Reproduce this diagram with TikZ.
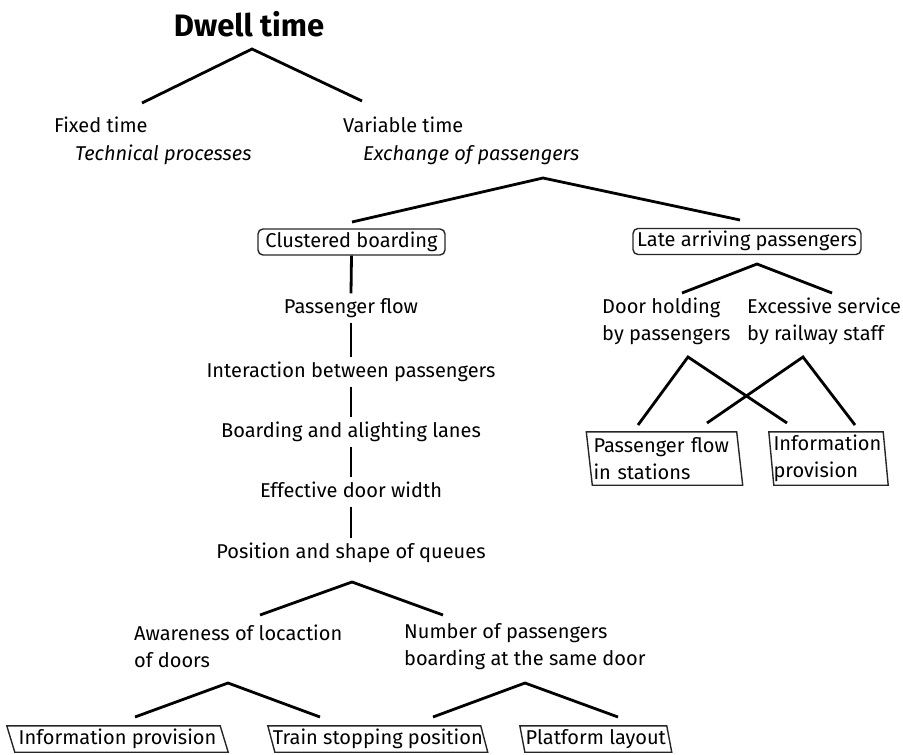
\documentclass[tikz,border=0pt]{standalone}
\usepackage{fontspec}
\setmainfont{Fira Sans}
\begin{document}
\begin{tikzpicture}[x=1pt,y=-1pt,
  txt/.style={inner sep=0pt, text=black, font=\fontsize{20}{27}\selectfont, text height=14.5pt, text depth=4.5pt},
  chain/.style={txt, inner ysep=5pt},
  ltxt/.style={txt, anchor=west, align=left, text height=, text depth=},
  branch/.style={line width=2.8pt, line cap=butt},
  rbox/.style={txt, draw=black!85, line width=1.4pt, rounded corners=5pt, inner xsep=4pt, minimum height=26pt},
  pline/.style={draw=black!85, line width=1.4pt, line join=miter}
]
\useasboundingbox (0,0) rectangle (903,755);

% title
\node[inner sep=0pt, font=\fontsize{31}{34}\selectfont\bfseries, text=black] (dwell) at (249,24) {Dwell time};

% level 1
\node[ltxt] (fixed) at (54,125) {Fixed time};
\node[ltxt, font=\fontsize{20}{27}\selectfont\itshape] (tech) at (75,155) {Technical processes};
\node[ltxt] (variable) at (343,125) {Variable time};
\node[ltxt, font=\fontsize{20}{27}\selectfont\itshape] (exch) at (363,155) {Exchange of passengers};

\coordinate (p1) at (252,49);
\coordinate (p1l) at (142,103);
\coordinate (p1r) at (362,101);
\draw[branch] (p1l) -- (p1) -- (p1r);

% level 2
\node[rbox, minimum width=187pt] (clus) at (351.5,242) {Clustered boarding};
\node[rbox, minimum width=228pt] (late) at (747,241.5) {Late arriving passengers};

\coordinate (p2) at (543,178);
\coordinate (p2l) at (352,222);
\coordinate (p2r) at (740,220);
\draw[branch] (p2l) -- (p2) -- (p2r);

% chain under clustered boarding
\node[chain] (pf) at (351,308) {Passenger flow};
\node[chain] (inter) at (351,372) {Interaction between passengers};
\node[chain] (lanes) at (351,432) {Boarding and alighting lanes};
\node[chain] (door) at (351,492) {Effective door width};
\node[chain] (queue) at (351,553) {Position and shape of queues};
\draw[branch] (clus.south) -- (pf.north);
\draw[branch] (pf.south) -- (inter.north);
\draw[branch] (inter.south) -- (lanes.north);
\draw[branch] (lanes.south) -- (door.north);
\draw[branch] (door.south) -- (queue.north);

% queue branches
\coordinate (p3) at (352,582);
\coordinate (p3l) at (260,615);
\coordinate (p3r) at (443,615);
\draw[branch] (p3l) -- (p3) -- (p3r);

\node[ltxt] (aware) at (134,646.5) {Awareness of locaction\\of doors};
\node[ltxt] (numb) at (404,646.5) {Number of passengers\\boarding at the same door};

\coordinate (p4) at (228,683);
\coordinate (p4l) at (135,717);
\coordinate (p4r) at (320,717);
\draw[branch] (p4l) -- (p4) -- (p4r);
\coordinate (p5) at (525,683);
\coordinate (p5l) at (433,717);
\coordinate (p5r) at (618,717);
\draw[branch] (p5l) -- (p5) -- (p5r);

% bottom parallelogram boxes
\node[txt, minimum width=213pt, minimum height=26pt] (info1) at (117.5,739) {Information provision};
\draw[pline] ([xshift=-4pt]info1.north west) -- ([xshift=-4pt]info1.north east) -- ([xshift=4pt]info1.south east) -- ([xshift=4pt]info1.south west) -- cycle;
\node[txt, minimum width=212.5pt, minimum height=26pt] (train) at (377.8,739) {Train stopping position};
\draw[pline] ([xshift=-3.5pt]train.north west) -- ([xshift=-3.5pt]train.north east) -- ([xshift=3.5pt]train.south east) -- ([xshift=3.5pt]train.south west) -- cycle;
\node[txt, minimum width=146.5pt, minimum height=26pt] (plat) at (595.8,739) {Platform layout};
\draw[pline] ([xshift=-2.5pt]plat.north west) -- ([xshift=-2.5pt]plat.north east) -- ([xshift=2.5pt]plat.south east) -- ([xshift=2.5pt]plat.south west) -- cycle;

% late arriving branch
\coordinate (p6) at (757,264);
\coordinate (p6l) at (682,293);
\coordinate (p6r) at (832,293);
\draw[branch] (p6l) -- (p6) -- (p6r);

\node[ltxt] (hold) at (602,321.5) {Door holding\\by passengers};
\node[ltxt] (exces) at (747,321.5) {Excessive service\\by railway staff};

% crossing branches
\coordinate (p7) at (688,357);
\coordinate (p7l) at (638,425);
\coordinate (p7r) at (787,423);
\coordinate (p8) at (803,357);
\coordinate (p8l) at (707,423);
\coordinate (p8r) at (855,425);
\draw[branch] (p7l) -- (p7) -- (p7r);
\draw[branch] (p8l) -- (p8) -- (p8r);

% upper parallelogram boxes
\node[txt, minimum width=149pt, minimum height=53pt, text height=, text depth=, align=left, text width=142pt, inner xsep=4pt] (psta) at (664.5,458.5) {Passenger flow\\in stations};
\draw[pline] ([xshift=-3pt]psta.north west) -- ([xshift=-3pt]psta.north east) -- ([xshift=3pt]psta.south east) -- ([xshift=3pt]psta.south west) -- cycle;
\node[txt, minimum width=114pt, minimum height=53pt, text height=, text depth=, align=left, text width=110pt, inner xsep=2pt] (info2) at (828.5,458.5) {Information\\provision};
\draw[pline] ([xshift=-2.5pt]info2.north west) -- ([xshift=-2.5pt]info2.north east) -- ([xshift=2.5pt]info2.south east) -- ([xshift=2.5pt]info2.south west) -- cycle;
\end{tikzpicture}
\end{document}
